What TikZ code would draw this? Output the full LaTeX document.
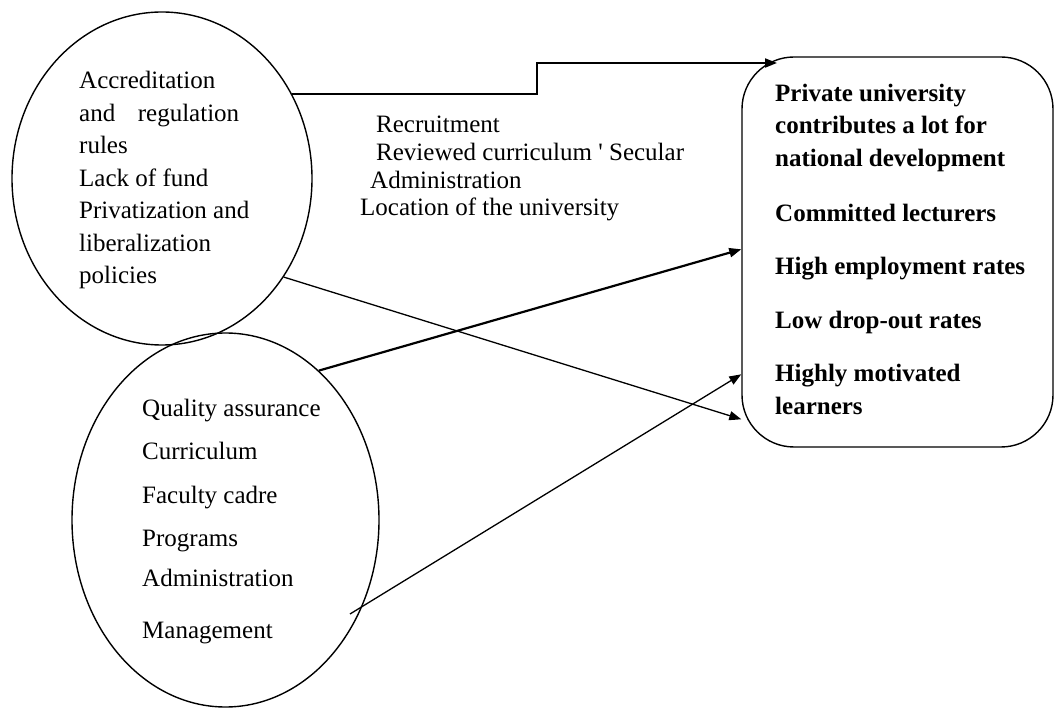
\documentclass[tikz,border=0pt]{standalone}
\usepackage{fontspec}
\setmainfont{Liberation Serif}[Ligatures=TeXOff]
\usetikzlibrary{shapes.geometric,arrows.meta,calc}
\begin{document}
\begin{tikzpicture}[x=1pt,y=-1pt,
  oval/.style={draw,ellipse,line width=1.4pt,inner sep=0pt},
  outbox/.style={draw,rectangle,rounded corners=52pt,line width=1.4pt,inner sep=0pt},
  txt/.style={anchor=base west,inner sep=0pt,font=\fontsize{25}{30}\selectfont},
  btxt/.style={txt,font=\fontsize{25}{30}\selectfont\bfseries},
  link/.style={line width=1.3pt,-{Triangle[length=12pt,width=9pt]}},
  boldlink/.style={link,line width=2.2pt}]
\useasboundingbox[fill=white] (0,0) rectangle (1055,708);

% shapes
\node[oval,minimum width=300pt,minimum height=333pt] (topE) at (162,178.5) {};
\node[oval,minimum width=307pt,minimum height=374pt] (botE) at (225.5,520) {};
\node[outbox,minimum width=311pt,minimum height=390pt] (box) at (897.5,252) {};

% top ellipse text
\node[txt] (t1) at (79,89) {Accreditation};
\node[txt] (t2) at (79,121.5) {\hbox to 160pt{and\hfill regulation}};
\node[txt] (t3) at (79,154) {rules};
\node[txt] (t4) at (79,186.5) {Lack of fund};
\node[txt] (t5) at (79,219) {Privatization and};
\node[txt] (t6) at (79,251.5) {liberalization};
\node[txt] (t7) at (79,284) {policies};

% middle text
\node[txt] (m1) at (376,133) {Recruitment};
\node[txt] (m2) at (376,161) {Reviewed curriculum ' Secular};
\node[txt] (m3) at (370,189) {Administration};
\node[txt] (m4) at (360,216) {Location of the university};

% bottom ellipse text
\node[txt] (b1) at (142,417) {Quality assurance};
\node[txt] (b2) at (142,460) {Curriculum};
\node[txt] (b3) at (142,503) {Faculty cadre};
\node[txt] (b4) at (142,546) {Programs};
\node[txt] (b5) at (142,586) {Administration};
\node[txt] (b6) at (142,638) {Management};

% box text
\node[btxt] (r1) at (775,102) {Private university};
\node[btxt] (r2) at (775,134) {contributes a lot for};
\node[btxt] (r3) at (775,167) {national development};
\node[btxt] (r4) at (775,222) {Committed lecturers};
\node[btxt] (r5) at (775,275) {High employment rates};
\node[btxt] (r6) at (775,329) {Low drop-out rates};
\node[btxt] (r7) at (775,382) {Highly motivated};
\node[btxt] (r8) at (775,415) {learners};

% connector end points
\coordinate (bend) at (537,63);
\coordinate (boxTop) at (777,63);
\coordinate (mgmt) at (350,614);

% connectors
\draw[link,line width=1.8pt] (topE.33.8) -| (bend) -- (boxTop);
\draw[boldlink] (botE.58.2) -- ($(box.north west)+(0,193)$);
\draw[link] (mgmt) -- ($(box.north west)+(0,318)$);
\draw[link] (topE.-39.8) -- ($(box.north west)+(0,363)$);
\end{tikzpicture}
\end{document}
